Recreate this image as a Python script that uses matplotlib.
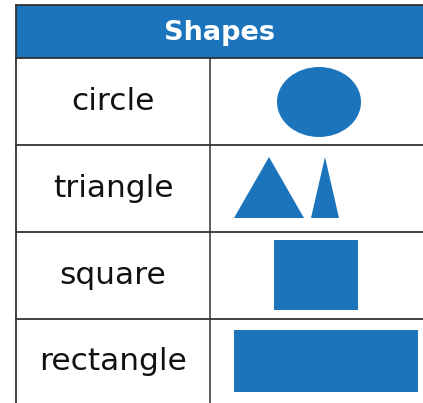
import matplotlib
matplotlib.use("Agg")
import matplotlib.pyplot as plt
from matplotlib.patches import Rectangle, Ellipse, Polygon

title = "Shapes"
labels = ["circle", "triangle", "square", "rectangle"]

blue = "#1c75bc"
edge = "#333333"

# table grid in pixel units
left, mid, right = 16, 210, 423
top, head_bottom = 5, 58
row_lines = [58, 145, 232, 319, 410]

fig = plt.figure(figsize=(4.23, 4.03), dpi=100)
ax = fig.add_axes([0, 0, 1, 1])
ax.set_xlim(0, 423)
ax.set_ylim(403, 0)
ax.axis("off")

# header
ax.add_patch(Rectangle((left, top), right - left, head_bottom - top, color=blue, lw=0))
ax.text((left + right) / 2, (top + head_bottom) / 2 + 1, title, color="white",
        fontsize=19.5, fontweight="bold", family="DejaVu Sans", ha="center", va="center")

# grid lines
ax.plot([left, right], [top, top], color=edge, lw=1.3)
ax.plot([left, left], [top, 403], color=edge, lw=1.3)
ax.plot([mid, mid], [head_bottom, 403], color=edge, lw=1.1)
for y in row_lines[:-1]:
    ax.plot([left, right], [y, y], color=edge, lw=1.3)

# labels
for i, lab in enumerate(labels):
    yc = (row_lines[i] + row_lines[i + 1]) / 2 if i < 3 else 362
    ax.text((left + mid) / 2, yc, lab, fontsize=22.5, family="DejaVu Sans",
            ha="center", va="center", color="#111111")

# shapes
ax.add_patch(Ellipse((319, 102), 84, 70, color=blue, lw=0))
ax.add_patch(Polygon([[234, 218], [269, 157], [304, 218]], color=blue, lw=0))
ax.add_patch(Polygon([[311, 218], [325, 157], [339, 218]], color=blue, lw=0))
ax.add_patch(Rectangle((274, 240), 84, 70, color=blue, lw=0))
ax.add_patch(Rectangle((234, 330), 184, 62, color=blue, lw=0))

fig.savefig("out.png", dpi=100)
